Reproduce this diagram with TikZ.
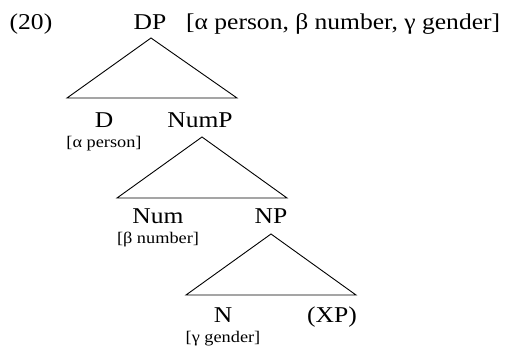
\documentclass[tikz,border=0pt]{standalone}
\usepackage{fontspec}
\setmainfont{Liberation Serif}[FakeStretch=1.13]
\begin{document}
\begin{tikzpicture}[x=1pt,y=-1pt,
  big/.style={inner sep=0pt,anchor=base,font=\fontsize{22.6}{26}\selectfont},
  small/.style={inner sep=0pt,anchor=base,font=\fontsize{16.2}{19}\selectfont},
  tri/.style={draw=black,line width=0.9pt,line join=miter}]
\useasboundingbox (0,0) rectangle (516,351);
% labels
\node[big] (ex) at (31,29) {(20)};
\node[big] (dp) at (150,29) {DP};
\node[big,anchor=base west] (dpf) at (186,29) {[α person, β number, γ gender]};
\node[big] (d) at (104,127) {D};
\node[small] (df) at (104,147) {[α person]};
\node[big] (nump) at (200,127) {NumP};
\node[big] (num) at (158,223) {Num};
\node[small] (numf) at (158,243) {[β number]};
\node[big] (np) at (271,223) {NP};
\node[big] (n) at (223,322) {N};
\node[small] (nf) at (223,342) {[γ gender]};
\node[big] (xp) at (332,322) {(XP)};
% triangles
\coordinate (t1a) at (151,38);
\coordinate (t1l) at (67,98);
\coordinate (t1r) at (237,98);
\coordinate (t2a) at (202,137);
\coordinate (t2l) at (117,198);
\coordinate (t2r) at (287,198);
\coordinate (t3a) at (271,234);
\coordinate (t3l) at (186,295);
\coordinate (t3r) at (356,295);
\draw[tri] (t1a) -- (t1l) -- (t1r) -- cycle;
\draw[tri] (t2a) -- (t2l) -- (t2r) -- cycle;
\draw[tri] (t3a) -- (t3l) -- (t3r) -- cycle;
\end{tikzpicture}
\end{document}
